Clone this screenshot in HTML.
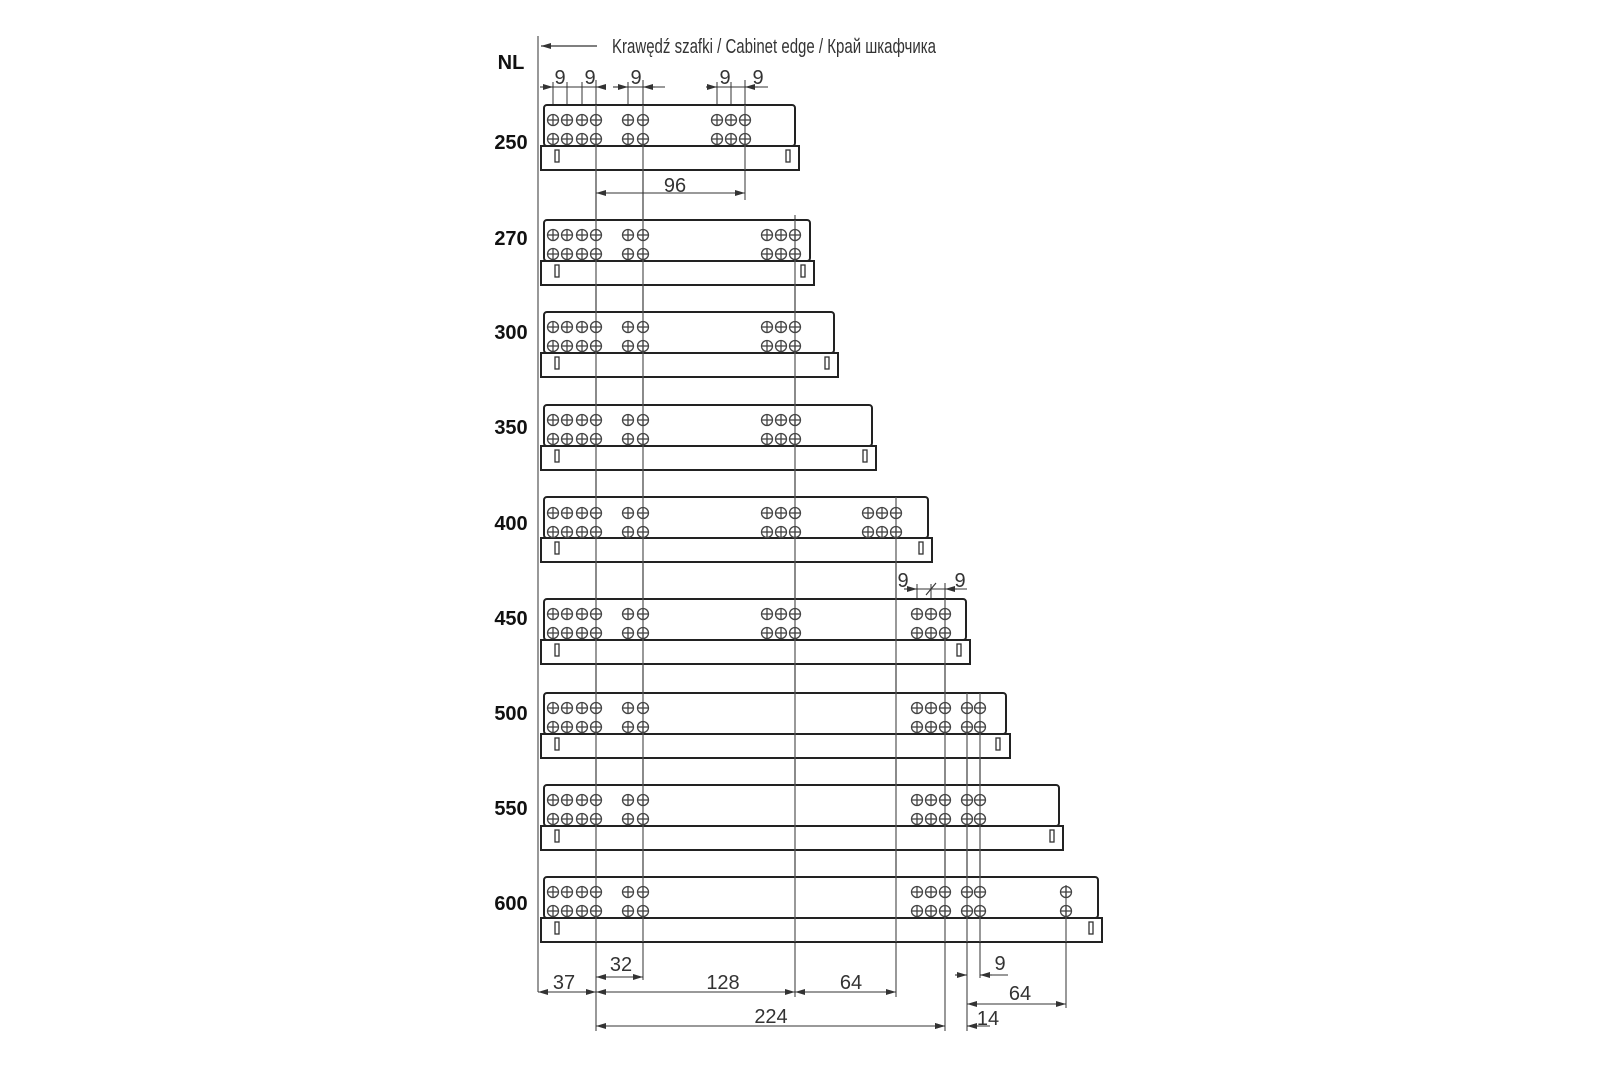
<!DOCTYPE html>
<html><head><meta charset="utf-8"><style>
html,body{margin:0;padding:0;background:#fff}
svg{display:block}
text{font-family:"Liberation Sans","DejaVu Sans",sans-serif;fill:#333}
.d{font-size:20px}
.l{font-size:20px;font-weight:bold;fill:#111}
</style></head><body>
<svg width="1600" height="1067" viewBox="0 0 1600 1067" xmlns="http://www.w3.org/2000/svg">
<defs>
<g id="h" stroke="#444" stroke-width="1.3" fill="none"><circle cx="0" cy="0" r="5.5"/><line x1="-5.5" y1="0" x2="5.5" y2="0"/><line x1="0" y1="-5.5" x2="0" y2="5.5"/></g>
<g id="p"><use href="#h"/><use href="#h" y="19"/></g>
<g id="g1"><use href="#p" x="553"/><use href="#p" x="567"/><use href="#p" x="582"/><use href="#p" x="596"/></g>
<g id="g2"><use href="#p" x="628"/><use href="#p" x="643"/></g>
<g id="g3"><use href="#p" x="767"/><use href="#p" x="781"/><use href="#p" x="795"/></g>
<g id="g4"><use href="#p" x="868"/><use href="#p" x="882"/><use href="#p" x="896"/></g>
<g id="g5"><use href="#p" x="917"/><use href="#p" x="931"/><use href="#p" x="945"/></g>
<g id="g6"><use href="#p" x="967"/><use href="#p" x="980"/></g>
<g id="g0"><use href="#p" x="717"/><use href="#p" x="731"/><use href="#p" x="745"/></g>
<marker id="a" viewBox="0 0 10 6" refX="10" refY="3" markerWidth="10" markerHeight="6" orient="auto-start-reverse" markerUnits="userSpaceOnUse"><path d="M0,0 L10,3 L0,6 z" fill="#333"/></marker>
</defs>

<g stroke="#555" stroke-width="1.2">
<line x1="538" y1="36" x2="538" y2="992"/>
<line x1="596" y1="80" x2="596" y2="1031"/>
<line x1="643" y1="80" x2="643" y2="980"/>
<line x1="795" y1="215" x2="795" y2="997"/>
<line x1="896" y1="497" x2="896" y2="997"/>
<line x1="945" y1="583" x2="945" y2="1031"/>
<line x1="967" y1="700" x2="967" y2="1031"/>
<line x1="980" y1="700" x2="980" y2="978"/>
<line x1="1066" y1="885" x2="1066" y2="1008"/>
<line x1="745" y1="80" x2="745" y2="200"/>
<line x1="553" y1="82" x2="553" y2="112"/>
<line x1="567" y1="82" x2="567" y2="112"/>
<line x1="582" y1="82" x2="582" y2="112"/>
<line x1="628" y1="82" x2="628" y2="112"/>
<line x1="717" y1="82" x2="717" y2="112"/>
<line x1="731" y1="82" x2="731" y2="112"/>
<line x1="917" y1="584" x2="917" y2="610"/>
<line x1="931" y1="584" x2="931" y2="610"/>
</g>

<g fill="#fff" stroke="#222" stroke-width="2">
<rect x="544" y="105" width="251" height="41" rx="3"/><rect x="541" y="146" width="258" height="24"/>
<rect x="544" y="220" width="266" height="41" rx="3"/><rect x="541" y="261" width="273" height="24"/>
<rect x="544" y="312" width="290" height="41" rx="3"/><rect x="541" y="353" width="297" height="24"/>
<rect x="544" y="405" width="328" height="41" rx="3"/><rect x="541" y="446" width="335" height="24"/>
<rect x="544" y="497" width="384" height="41" rx="3"/><rect x="541" y="538" width="391" height="24"/>
<rect x="544" y="599" width="422" height="41" rx="3"/><rect x="541" y="640" width="429" height="24"/>
<rect x="544" y="693" width="462" height="41" rx="3"/><rect x="541" y="734" width="469" height="24"/>
<rect x="544" y="785" width="515" height="41" rx="3"/><rect x="541" y="826" width="522" height="24"/>
<rect x="544" y="877" width="554" height="41" rx="3"/><rect x="541" y="918" width="561" height="24"/>
</g>
<g stroke="#555" stroke-width="1.2">
<line x1="596" y1="105" x2="596" y2="942"/>
<line x1="643" y1="105" x2="643" y2="942"/>
<line x1="795" y1="220" x2="795" y2="942"/>
<line x1="896" y1="497" x2="896" y2="942"/>
<line x1="945" y1="599" x2="945" y2="942"/>
<line x1="967" y1="693" x2="967" y2="942"/>
<line x1="980" y1="693" x2="980" y2="942"/>
<line x1="1066" y1="885" x2="1066" y2="942"/>
<line x1="745" y1="105" x2="745" y2="170"/>
</g>
<g fill="#fff" stroke="#333" stroke-width="1.3">
<rect x="555" y="150" width="4" height="12"/><rect x="786" y="150" width="4" height="12"/>
<rect x="555" y="265" width="4" height="12"/><rect x="801" y="265" width="4" height="12"/>
<rect x="555" y="357" width="4" height="12"/><rect x="825" y="357" width="4" height="12"/>
<rect x="555" y="450" width="4" height="12"/><rect x="863" y="450" width="4" height="12"/>
<rect x="555" y="542" width="4" height="12"/><rect x="919" y="542" width="4" height="12"/>
<rect x="555" y="644" width="4" height="12"/><rect x="957" y="644" width="4" height="12"/>
<rect x="555" y="738" width="4" height="12"/><rect x="996" y="738" width="4" height="12"/>
<rect x="555" y="830" width="4" height="12"/><rect x="1050" y="830" width="4" height="12"/>
<rect x="555" y="922" width="4" height="12"/><rect x="1089" y="922" width="4" height="12"/>
</g>

<use href="#g1" y="120"/><use href="#g2" y="120"/><use href="#g0" y="120"/>
<use href="#g1" y="235"/><use href="#g2" y="235"/><use href="#g3" y="235"/>
<use href="#g1" y="327"/><use href="#g2" y="327"/><use href="#g3" y="327"/>
<use href="#g1" y="420"/><use href="#g2" y="420"/><use href="#g3" y="420"/>
<use href="#g1" y="513"/><use href="#g2" y="513"/><use href="#g3" y="513"/><use href="#g4" y="513"/>
<use href="#g1" y="614"/><use href="#g2" y="614"/><use href="#g3" y="614"/><use href="#g5" y="614"/>
<use href="#g1" y="708"/><use href="#g2" y="708"/><use href="#g5" y="708"/><use href="#g6" y="708"/>
<use href="#g1" y="800"/><use href="#g2" y="800"/><use href="#g5" y="800"/><use href="#g6" y="800"/>
<use href="#g1" y="892"/><use href="#g2" y="892"/><use href="#g5" y="892"/><use href="#g6" y="892"/><use href="#p" x="1066" y="892"/>

<g class="l" text-anchor="middle">
<text x="511" y="69" class="l">NL</text>
<text x="511" y="149" class="l">250</text>
<text x="511" y="245" class="l">270</text>
<text x="511" y="339" class="l">300</text>
<text x="511" y="434" class="l">350</text>
<text x="511" y="530" class="l">400</text>
<text x="511" y="625" class="l">450</text>
<text x="511" y="720" class="l">500</text>
<text x="511" y="815" class="l">550</text>
<text x="511" y="910" class="l">600</text>
</g>

<line x1="597" y1="46" x2="541" y2="46" stroke="#333" stroke-width="1.2" marker-end="url(#a)"/>
<text x="612" y="53" class="d" textLength="324" lengthAdjust="spacingAndGlyphs">Krawędź szafki / Cabinet edge / Край шкафчика</text>

<g stroke="#333" stroke-width="1.1" fill="none">
<line x1="540" y1="87" x2="553" y2="87" marker-end="url(#a)"/>
<line x1="553" y1="87" x2="596" y2="87"/>
<line x1="606" y1="87" x2="596" y2="87" marker-end="url(#a)"/>
<line x1="613" y1="87" x2="628" y2="87" marker-end="url(#a)"/>
<line x1="628" y1="87" x2="665" y2="87"/>
<line x1="655" y1="87" x2="643" y2="87" marker-end="url(#a)"/>
<line x1="706" y1="87" x2="717" y2="87" marker-end="url(#a)"/>
<line x1="717" y1="87" x2="768" y2="87"/>
<line x1="758" y1="87" x2="745" y2="87" marker-end="url(#a)"/>
<line x1="596" y1="193" x2="745" y2="193" marker-start="url(#a)" marker-end="url(#a)"/>
<line x1="904" y1="589" x2="917" y2="589" marker-end="url(#a)"/>
<line x1="917" y1="589" x2="967" y2="589"/>
<line x1="957" y1="589" x2="945" y2="589" marker-end="url(#a)"/>
<line x1="926" y1="595" x2="936" y2="583"/>
<line x1="596" y1="977" x2="643" y2="977" marker-start="url(#a)" marker-end="url(#a)"/>
<line x1="538" y1="992" x2="596" y2="992" marker-start="url(#a)" marker-end="url(#a)"/>
<line x1="596" y1="992" x2="795" y2="992" marker-start="url(#a)" marker-end="url(#a)"/>
<line x1="795" y1="992" x2="896" y2="992" marker-start="url(#a)" marker-end="url(#a)"/>
<line x1="596" y1="1026" x2="945" y2="1026" marker-start="url(#a)" marker-end="url(#a)"/>
<line x1="955" y1="975" x2="967" y2="975" marker-end="url(#a)"/>
<line x1="1008" y1="975" x2="980" y2="975"/>
<line x1="992" y1="975" x2="980" y2="975" marker-end="url(#a)"/>
<line x1="967" y1="1004" x2="1066" y2="1004" marker-start="url(#a)" marker-end="url(#a)"/>
<line x1="935" y1="1026" x2="945" y2="1026" marker-end="url(#a)"/>
<line x1="990" y1="1026" x2="967" y2="1026"/>
<line x1="979" y1="1026" x2="967" y2="1026" marker-end="url(#a)"/>
</g>

<g class="d" text-anchor="middle">
<text x="560" y="84">9</text>
<text x="590" y="84">9</text>
<text x="636" y="84">9</text>
<text x="725" y="84">9</text>
<text x="758" y="84">9</text>
<text x="675" y="192">96</text>
<text x="903" y="587">9</text>
<text x="960" y="587">9</text>
<text x="621" y="971">32</text>
<text x="564" y="989">37</text>
<text x="723" y="989">128</text>
<text x="851" y="989">64</text>
<text x="771" y="1023">224</text>
<text x="1000" y="970">9</text>
<text x="1020" y="1000">64</text>
<text x="988" y="1025">14</text>
</g>
</svg>
</body></html>
